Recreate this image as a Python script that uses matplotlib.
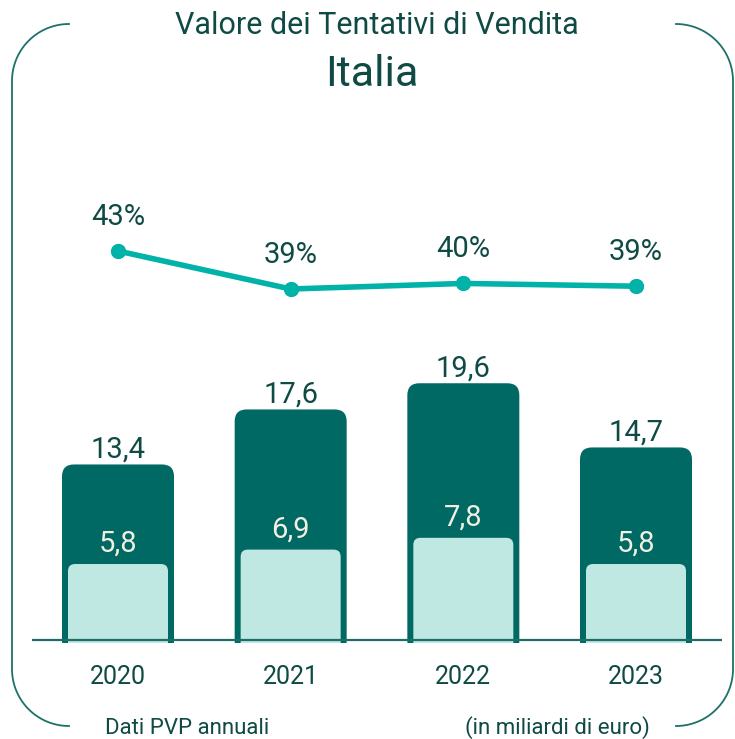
import numpy as np
import matplotlib.pyplot as plt
from matplotlib.patches import FancyBboxPatch

plt.rcParams['font.family'] = ['Roboto', 'DejaVu Sans']

years = ['2020', '2021', '2022', '2023']
totale = [13.4, 17.6, 19.6, 14.7]
venduto = [5.8, 6.9, 7.8, 5.8]
quota = [43.3, 39.2, 39.8, 39.5]
quota_labels = ['43%', '39%', '40%', '39%']

dark = '#006963'
light = '#bfe8e3'
line_col = '#00b2a7'
txt = '#0f4a45'
cream = '#f1f0e2'

W, H = 735, 739
fig = plt.figure(figsize=(W / 100, H / 100), dpi=100)

# cornice arrotondata (coordinate in pixel)
bg = fig.add_axes([0, 0, 1, 1], zorder=0)
bg.set_xlim(0, W)
bg.set_ylim(H, 0)
bg.axis('off')
L, R, T, B, r = 12, 733, 24, 726, 57
t = np.linspace(0, np.pi / 2, 40)
fc = '#1c716b'
lx = np.concatenate([L + r - r * np.sin(t), L + r - r * np.cos(t)])
ly = np.concatenate([T + r - r * np.cos(t), B - r + r * np.sin(t)])
bg.plot(lx, ly, color=fc, lw=1.3)
bg.plot(L + R - lx, ly, color=fc, lw=1.3)

# assi principali
x0, x1 = 32, 722
base_px, top_px, bot_px = 640, 130, 643
ppu = 13.1
ax = fig.add_axes([x0 / W, (H - bot_px) / H, (x1 - x0) / W, (bot_px - top_px) / H], zorder=2)
ax.patch.set_alpha(0)
step = 172.67
ax.set_xlim(-(118 - x0) / step, 3 + (x1 - 636) / step)
ax.set_ylim(-(bot_px - base_px) / ppu, (base_px - top_px) / ppu)
asp = step / ppu

x = np.arange(len(years))
for xi, v, s in zip(x, totale, venduto):
    w1 = 112 / step
    outer = FancyBboxPatch((xi - w1 / 2, -1), w1, v + 1,
                           boxstyle='round,pad=0,rounding_size=%f' % (12 / step),
                           mutation_aspect=asp, fc=dark, ec='none', zorder=2)
    ax.add_patch(outer)
    w2 = 100 / step
    inner = FancyBboxPatch((xi - w2 / 2, -1), w2, s + 1,
                           boxstyle='round,pad=0,rounding_size=%f' % (7 / step),
                           mutation_aspect=asp, fc=light, ec='none', zorder=3)
    ax.add_patch(inner)
    ax.annotate(f'{v:.1f}'.replace('.', ','), (xi, v), xytext=(0, 5),
                textcoords='offset points', ha='center', va='baseline',
                fontsize=21, color=txt)
    ax.annotate(f'{s:.1f}'.replace('.', ','), (xi, s), xytext=(0, 9),
                textcoords='offset points', ha='center', va='baseline',
                fontsize=21, color=cream, zorder=4)

ax.axhline(0, color='#1c6f69', lw=1.6, zorder=4)
ax.set_xticks(x)
ax.set_xticklabels(years, fontsize=18, color=txt)
ax.tick_params(axis='x', length=0, pad=16)
ax.set_yticks([])
for sp in ax.spines.values():
    sp.set_visible(False)

ax2 = ax.twinx()
ax2.set_ylim(39.2 - (bot_px - 289) / 9.27, 39.2 + (289 - top_px) / 9.27)
ax2.plot(x, quota, color=line_col, lw=4, marker='o', ms=10, solid_capstyle='round')
for xi, q, lab in zip(x, quota, quota_labels):
    ax2.annotate(lab, (xi, q), xytext=(0, 19), textcoords='offset points',
                 ha='center', va='baseline', fontsize=21, color=txt)
ax2.set_yticks([])
for sp in ax2.spines.values():
    sp.set_visible(False)

fig.text(377 / W, 1 - 25 / H, 'Valore dei Tentativi di Vendita', ha='center', va='center',
         fontsize=22, color=txt)
fig.text(372 / W, 1 - 75 / H, 'Italia', ha='center', va='center', fontsize=31, color=txt)
fig.text(187 / W, 1 - 728 / H, 'Dati PVP annuali', ha='center', va='center', fontsize=16, color=txt)
fig.text(557 / W, 1 - 728 / H, '(in miliardi di euro)', ha='center', va='center', fontsize=16, color=txt)

fig.savefig('out.png', dpi=100)
